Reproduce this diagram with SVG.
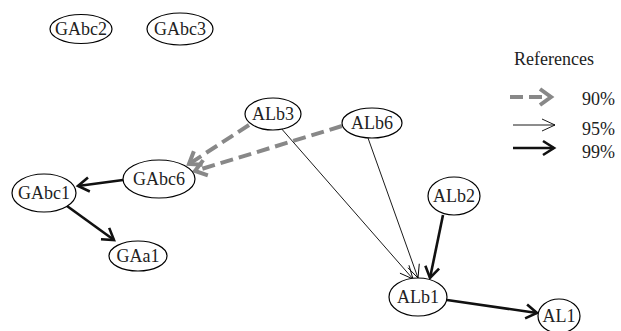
<svg xmlns="http://www.w3.org/2000/svg" width="621" height="331" viewBox="0 0 621 331">
<defs>
<style>
.node ellipse{fill:#fff;stroke:#000;stroke-width:1.2}
text{font-family:"Liberation Serif","Times New Roman",serif;font-size:18px;fill:#222}
.lbl{text-anchor:middle}
.thin{stroke:#000;stroke-width:0.9;fill:none}
.thick{stroke:#111;stroke-width:2.6;fill:none}
.gray{stroke:#888;stroke-width:4;fill:none;stroke-dasharray:13 6}
</style>
<marker id="mThin" markerUnits="userSpaceOnUse" orient="auto" markerWidth="20" markerHeight="20" refX="0" refY="0" viewBox="-14 -10 16 20" overflow="visible">
<path d="M-13,-6 L0,0 L-13,6" fill="none" stroke="#000" stroke-width="0.9"/>
</marker>
<marker id="mThick" markerUnits="userSpaceOnUse" orient="auto" markerWidth="20" markerHeight="20" refX="0" refY="0" viewBox="-14 -10 16 20" overflow="visible">
<path d="M-11,-7 L0,0 L-11,7" fill="none" stroke="#111" stroke-width="2.6"/>
</marker>
<marker id="mGray" markerUnits="userSpaceOnUse" orient="auto" markerWidth="20" markerHeight="20" refX="0" refY="0" viewBox="-14 -10 16 20" overflow="visible">
<path d="M-11,-8 L0,0 L-11,8" fill="none" stroke="#888" stroke-width="4"/>
</marker>
</defs>
<rect width="621" height="331" fill="#fff"/>
<g id="connectors">
<line class="thick" x1="123" y1="180" x2="78" y2="186" marker-end="url(#mThick)"/>
<line class="thick" x1="67" y1="206" x2="114" y2="240" marker-end="url(#mThick)"/>
<line class="gray" x1="249" y1="125" x2="189" y2="164" marker-end="url(#mGray)"/>
<line class="gray" x1="342" y1="126" x2="195" y2="171" marker-end="url(#mGray)"/>
<line class="thin" x1="280" y1="127" x2="413" y2="279" marker-end="url(#mThin)"/>
<line class="thin" x1="368" y1="138" x2="418" y2="278" marker-end="url(#mThin)"/>
<line class="thick" x1="443" y1="215" x2="430" y2="278" marker-end="url(#mThick)"/>
<line class="thick" x1="447" y1="300" x2="537" y2="313" marker-end="url(#mThick)"/>
</g>
<g id="GAbc2" class="node"><ellipse cx="81" cy="29" rx="31" ry="14.5"/><text class="lbl" x="81" y="35">GAbc2</text></g>
<g id="GAbc3" class="node"><ellipse cx="180" cy="29" rx="33" ry="16"/><text class="lbl" x="180" y="35">GAbc3</text></g>
<g id="ALb3" class="node"><ellipse cx="273" cy="114" rx="28" ry="16"/><text class="lbl" x="273" y="120">ALb3</text></g>
<g id="ALb6" class="node"><ellipse cx="372" cy="123" rx="30" ry="15"/><text class="lbl" x="372" y="129">ALb6</text></g>
<g id="GAbc6" class="node"><ellipse cx="159" cy="179" rx="36" ry="19"/><text class="lbl" x="159" y="185">GAbc6</text></g>
<g id="GAbc1" class="node"><ellipse cx="44" cy="193" rx="32" ry="19"/><text class="lbl" x="44" y="199">GAbc1</text></g>
<g id="GAa1" class="node"><ellipse cx="138" cy="256" rx="29" ry="15"/><text class="lbl" x="138" y="262">GAa1</text></g>
<g id="ALb2" class="node"><ellipse cx="454" cy="196" rx="26" ry="19"/><text class="lbl" x="454" y="202">ALb2</text></g>
<g id="ALb1" class="node"><ellipse cx="418" cy="297" rx="29" ry="19"/><text class="lbl" x="418" y="303">ALb1</text></g>
<g id="AL1" class="node"><ellipse cx="559" cy="316" rx="21" ry="17"/><text class="lbl" x="559" y="322">AL1</text></g>
<g id="legend">
<text x="514" y="65" font-size="17">References</text>
<line class="gray" x1="510" y1="97" x2="551" y2="97" stroke-dasharray="14 7" marker-end="url(#mGray)"/>
<text x="582" y="105" font-size="17">90%</text>
<line class="thin" x1="513" y1="125" x2="555" y2="125" marker-end="url(#mThin)"/>
<text x="582" y="135" font-size="17">95%</text>
<line class="thick" x1="513" y1="148" x2="554" y2="148" marker-end="url(#mThick)"/>
<text x="582" y="158" font-size="17">99%</text>
</g>
</svg>
